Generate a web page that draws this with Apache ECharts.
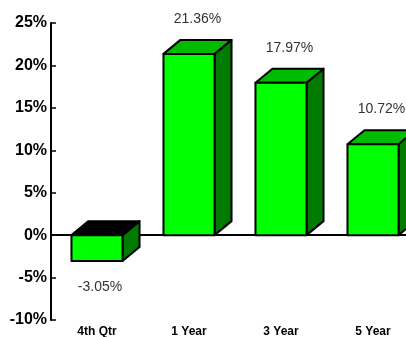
<!DOCTYPE html>
<html>
<head>
<meta charset="utf-8">
<script src="https://cdn.jsdelivr.net/npm/echarts@6/dist/echarts.min.js"></script>
<style>
  html, body { margin: 0; padding: 0; background: #fff; }
  #chart { width: 406px; height: 337px; }
</style>
</head>
<body>
<div id="chart"></div>
<script>
var categories = ['4th Qtr', '1 Year', '3 Year', '5 Year'];
var returns = [-3.05, 21.36, 17.97, 10.72];
var valueLabels = ['-3.05%', '21.36%', '17.97%', '10.72%'];

var chart = echarts.init(document.getElementById('chart'));

// pseudo 3d box: front, side and top faces
var depthX = 17, depthY = -14;

function renderBox(params, api) {
  var idx = api.value(0);
  var val = api.value(1);
  var base = api.coord([idx, 0]);
  var end = api.coord([idx, val]);
  var w = api.size([1, 0])[0] * 0.555;
  var xl = base[0] - w / 2, xr = base[0] + w / 2;
  var yTop = Math.min(base[1], end[1]);
  var yBot = Math.max(base[1], end[1]);
  var edge = { stroke: '#000', lineWidth: 2, lineJoin: 'round' };
  var neg = val < 0;

  var labelX, labelY;
  if (neg) {
    labelX = base[0] + 3;
    labelY = yBot + 26;
  } else {
    labelX = base[0] + depthX / 2;
    labelY = yTop + depthY - 21;
  }

  return {
    type: 'group',
    children: [
      {
        type: 'polygon',
        shape: { points: [[xr, yTop], [xr + depthX, yTop + depthY], [xr + depthX, yBot + depthY], [xr, yBot]] },
        style: Object.assign({ fill: '#007a00' }, edge)
      },
      {
        type: 'polygon',
        shape: { points: [[xl, yTop], [xl + depthX, yTop + depthY], [xr + depthX, yTop + depthY], [xr, yTop]] },
        style: Object.assign({ fill: neg ? '#000' : '#00bb00' }, edge)
      },
      {
        type: 'rect',
        shape: { x: xl, y: yTop, width: w, height: yBot - yTop },
        style: Object.assign({ fill: '#00ff00' }, edge)
      },
      {
        type: 'text',
        x: labelX,
        y: labelY,
        style: {
          text: valueLabels[params.dataIndex],
          fill: '#333',
          font: '14px "Liberation Sans", Arial, sans-serif',
          align: 'center',
          verticalAlign: 'middle'
        }
      }
    ]
  };
}

var tickFont = '"Liberation Sans", Arial, sans-serif';

var option = {
  animation: false,
  grid: { left: 51, width: 368, top: 23, bottom: 17, outerBoundsMode: 'none' },
  xAxis: [
    {
      type: 'category',
      data: categories,
      position: 'bottom',
      axisLine: { onZero: true, lineStyle: { color: '#000', width: 2 } },
      axisTick: { inside: true, length: 5, lineStyle: { color: '#000', width: 1.5 } },
      axisLabel: { show: false },
      splitLine: { show: false }
    },
    {
      type: 'category',
      data: categories,
      position: 'bottom',
      axisLine: { show: false, onZero: false },
      axisTick: { show: false },
      axisLabel: {
        margin: 6,
        color: '#000',
        fontWeight: 'bold',
        fontSize: 12,
        fontFamily: tickFont
      }
    }
  ],
  yAxis: {
    type: 'value',
    min: -10,
    max: 25,
    interval: 5,
    axisLine: { show: true, lineStyle: { color: '#000', width: 2 } },
    axisTick: { show: true, inside: true, length: 5, lineStyle: { color: '#000', width: 1.5 } },
    splitLine: { show: false },
    axisLabel: {
      margin: 4,
      color: '#000',
      fontWeight: 'bold',
      fontSize: 16,
      fontFamily: tickFont,
      formatter: '{value}%'
    }
  },
  series: [
    {
      type: 'custom',
      xAxisIndex: 0,
      renderItem: renderBox,
      data: returns.map(function (v, i) { return [i, v]; })
    }
  ]
};

chart.setOption(option);
</script>
</body>
</html>
